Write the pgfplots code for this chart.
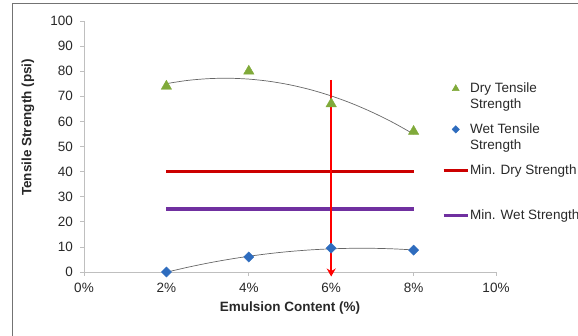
\documentclass[border=0pt]{standalone}
\usepackage{pgfplots}
\pgfplotsset{compat=1.18}
\usetikzlibrary{arrows.meta}
\usepackage{fontspec}
\setmainfont{Liberation Sans}

\definecolor{drygreen}{RGB}{128,170,58}
\definecolor{wetblue}{RGB}{46,108,190}
\definecolor{mindry}{RGB}{204,0,0}
\definecolor{minwet}{RGB}{112,48,160}
\definecolor{axisgray}{RGB}{191,191,191}
\definecolor{labelgray}{RGB}{40,40,40}

% legend symbols: short thick bar for the limits, small mark for the series
\pgfplotsset{
  lineleg/.style={legend image code/.code={\draw[##1, line width=3pt] (0pt,0pt) -- (24pt,0pt);}},
  markleg/.style={legend image code/.code={\draw[##1, mark size=#1] plot coordinates {(12pt,8pt)};}},
}

% emulsion content (%) vs. tensile strength (psi)
\pgfplotstableread{
x y
2 74
4 80
6 67
8 56
}\drytable
\pgfplotstableread{
x y
2 0
4 6
6 9.5
8 8.7
}\wettable
% second-order trend lines through each series
\pgfplotstableread{
x y
2   75.05
2.5 76.30
3   77.01
3.5 77.20
4   76.85
4.5 75.97
5   74.56
5.5 72.62
6   70.15
6.5 67.15
7   63.61
7.5 59.55
8   54.95
}\drytrend
\pgfplotstableread{
x y
2   -0.09
2.5 1.82
3   3.52
3.5 5.00
4   6.27
4.5 7.33
5   8.18
5.5 8.81
6   9.23
6.5 9.44
7   9.44
7.5 9.22
8   8.79
}\wettrend

\begin{document}
\begin{tikzpicture}[x=1pt,y=1pt]
\path[use as bounding box] (0,0) rectangle (578,336);
\draw[black!55, line width=0.8pt] (12,-20) -- (12,333) -- (600,333);
\begin{axis}[
  at={(84pt,64pt)}, anchor=south west,
  scale only axis, width=412pt, height=251pt,
  xmin=0, xmax=10, ymin=0, ymax=100,
  xtick={0,2,...,10}, ytick={0,10,...,100},
  xticklabel={\pgfmathprintnumber{\tick}\%},
  /pgf/number format/assume math mode=true,
  axis lines*=left,
  axis line style={axisgray, line width=0.7pt},
  tick style={axisgray, line width=0.7pt},
  tick align=outside, major tick length=4pt,
  ticklabel style={font=\fontsize{13.5}{15}\selectfont, text=labelgray},
  yticklabel style={xshift=-3.5pt},
  xticklabel style={yshift=-4pt},
  xlabel={Emulsion Content (\%)},
  ylabel={Tensile Strength (psi)},
  label style={font=\bfseries\fontsize{13.5}{15}\selectfont, text=labelgray},
  xlabel style={at={(axis description cs:0.5,-0.143)}, anchor=center},
  ylabel style={at={(axis description cs:-0.136,0.576)}, anchor=center},
  clip=false,
  legend cell align=left,
  legend style={draw=none, fill=none, inner sep=0pt,
    at={(axis description cs:0.869,0.757)}, anchor=north west,
    font=\fontsize{13.5}{15.5}\selectfont, text=labelgray,
    nodes={inner sep=1pt, align=left},
    row sep=12pt},
]
\addplot[forget plot, black!60, line width=0.7pt, smooth] table {\drytrend};
\addplot[forget plot, black!60, line width=0.7pt, smooth] table {\wettrend};

\addplot[only marks, mark=triangle*, mark size=6pt, color=drygreen, markleg=4pt]
  table {\drytable};
\addlegendentry{Dry Tensile\\Strength}

\addplot[only marks, mark=square*, mark size=3.6pt, mark options={rotate=45}, color=wetblue, markleg=2.6pt]
  table {\wettable};
\addlegendentry{Wet Tensile\\Strength}

\addplot[mindry, line width=3.5pt, lineleg]
  coordinates {(2,40) (8,40)};
\addlegendentry{Min. Dry Strength}

\addlegendimage{empty legend}
\addlegendentry{\rule{0pt}{4pt}}

\addplot[minwet, line width=3.5pt, lineleg]
  coordinates {(2,25) (8,25)};
\addlegendentry{Min. Wet Strength}

\addplot[forget plot, red, line width=1.8pt, -{Stealth[length=8pt, width=9pt]}]
  coordinates {(6,76.5) (6,-1.8)};
\end{axis}
\end{tikzpicture}
\end{document}
